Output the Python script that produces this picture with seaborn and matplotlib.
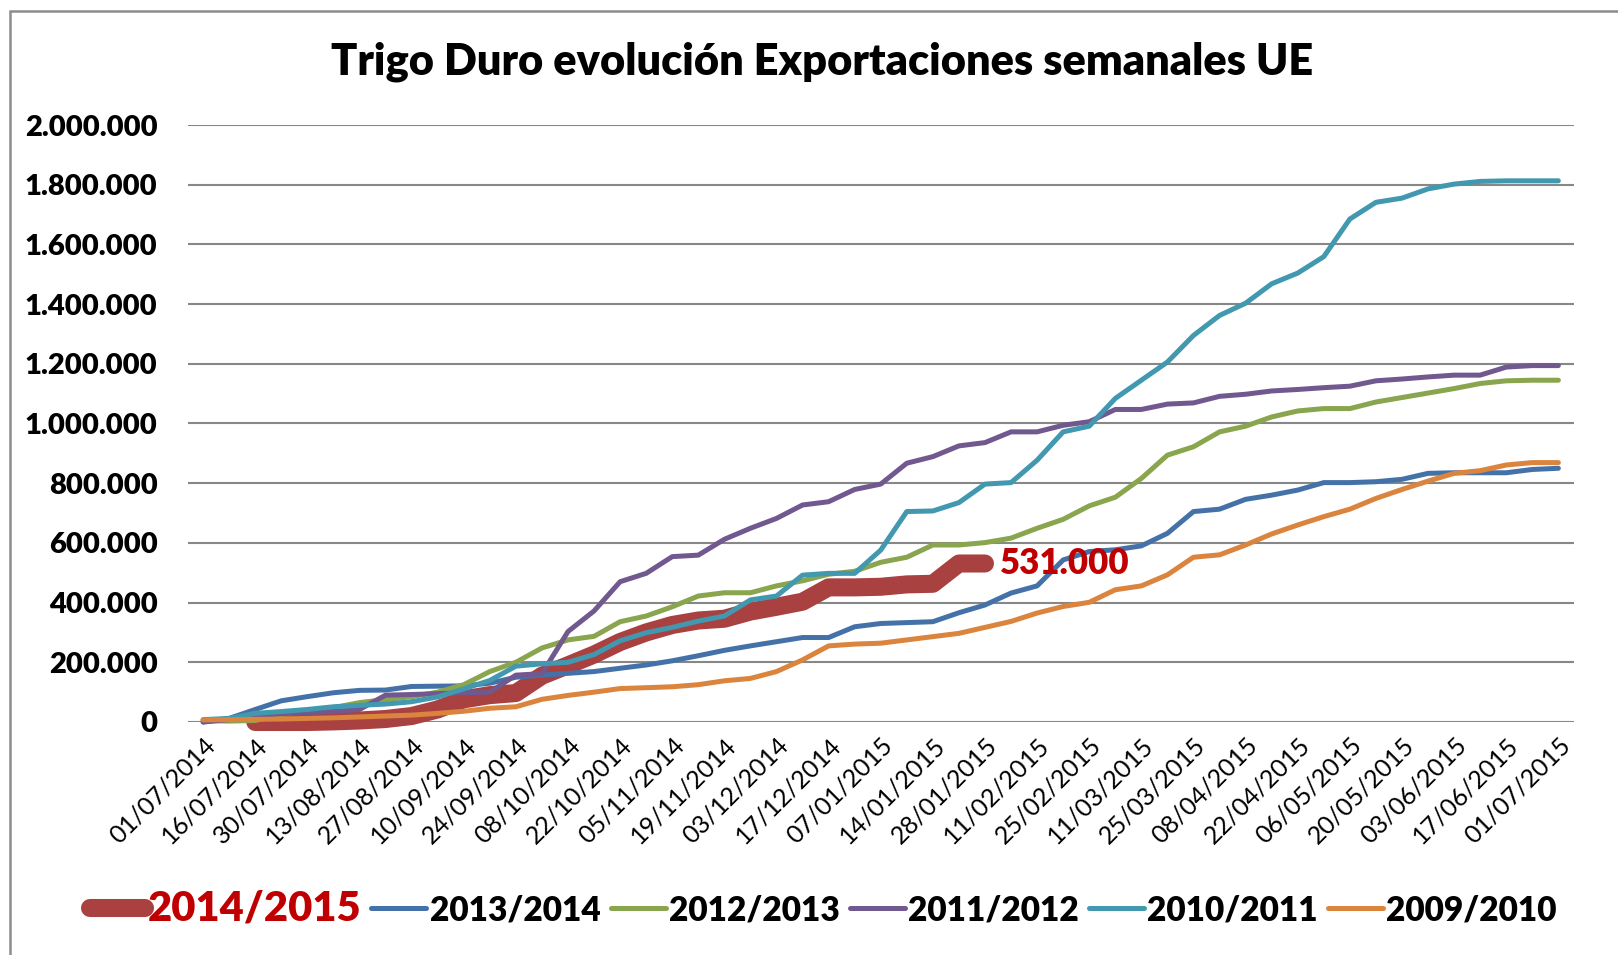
import numpy as np
import pandas as pd
import seaborn as sns
import matplotlib.pyplot as plt
from matplotlib.patches import Rectangle
from matplotlib.ticker import FuncFormatter

nan = np.nan

# fechas que aparecen en el eje (una de cada dos semanas)
tick_labels = ["01/07/2014", "16/07/2014", "30/07/2014", "13/08/2014", "27/08/2014",
               "10/09/2014", "24/09/2014", "08/10/2014", "22/10/2014", "05/11/2014",
               "19/11/2014", "03/12/2014", "17/12/2014", "07/01/2015", "14/01/2015",
               "28/01/2015", "11/02/2015", "25/02/2015", "11/03/2015", "25/03/2015",
               "08/04/2015", "22/04/2015", "06/05/2015", "20/05/2015", "03/06/2015",
               "17/06/2015", "01/07/2015"]
weeks = np.arange(53)

# exportaciones acumuladas, miles de t
c2014 = [nan, nan, 0, 0, 0, 2, 5, 10, 20, 42, 76, 90, 97, 155, 190, 226, 268, 300, 325, 340,
         346, 370, 386, 403, 451, 451, 453, 461, 463, 531, 531] + [nan] * 22
c2013 = [0, 12, 42, 71, 85, 98, 106, 107, 119, 120, 121, 130, 150, 157, 163, 169, 180, 191,
         205, 222, 240, 255, 269, 283, 283, 319, 330, 333, 336, 366, 392, 432, 456, 543, 571,
         577, 590, 632, 705, 713, 746, 760, 777, 802, 802, 805, 813, 833, 835, 835, 835, 846, 850]
c2012 = [5, 3, 5, 25, 38, 48, 65, 75, 85, 100, 125, 169, 200, 248, 275, 287, 336, 355, 386,
         422, 433, 433, 456, 473, 495, 505, 535, 552, 593, 593, 601, 616, 649, 679, 724, 753,
         816, 894, 922, 972, 991, 1022, 1042, 1050, 1050, 1072, 1087, 1102, 1117, 1134, 1143,
         1145, 1145]
c2011 = [0, 8, 20, 28, 32, 35, 42, 90, 92, 95, 98, 100, 157, 162, 303, 372, 470, 498, 554,
         559, 612, 649, 682, 727, 738, 779, 797, 867, 889, 925, 936, 972, 972, 994, 1006, 1047,
         1047, 1065, 1069, 1091, 1098, 1109, 1114, 1120, 1125, 1143, 1149, 1156, 1162, 1162,
         1189, 1194, 1194]
c2010 = [8, 12, 29, 35, 42, 51, 56, 60, 68, 84, 111, 139, 187, 195, 200, 226, 272, 299, 317,
         338, 355, 409, 422, 492, 498, 498, 576, 705, 707, 735, 797, 802, 877, 972, 991, 1084,
         1145, 1206, 1295, 1362, 1403, 1468, 1504, 1559, 1685, 1741, 1755, 1786, 1802, 1811,
         1813, 1813, 1813]
c2009 = [7, 8, 9, 10, 12, 14, 17, 20, 23, 29, 36, 46, 51, 76, 89, 100, 112, 115, 118, 125,
         138, 146, 169, 208, 255, 261, 264, 275, 286, 297, 317, 337, 365, 387, 401, 443, 456,
         493, 552, 560, 593, 630, 660, 688, 713, 749, 779, 807, 833, 842, 861, 869, 869]

campaigns = ["2014/2015", "2013/2014", "2012/2013", "2011/2012", "2010/2011", "2009/2010"]
series = [c2014, c2013, c2012, c2011, c2010, c2009]
colors = ["#A8413F", "#4472A8", "#89A54E", "#71588F", "#4198AF", "#DB843D"]

sns.set_style("white")
plt.rcParams['font.family'] = ['Lato', 'DejaVu Sans']
plt.rcParams['text.color'] = 'black'
plt.rcParams['xtick.color'] = 'black'
plt.rcParams['ytick.color'] = 'black'

fig = plt.figure(figsize=(16.18, 9.55), dpi=100)
ax = fig.add_axes([188 / 1618, 1 - 722 / 955, 1386 / 1618, 597 / 955])

for name, vals, col in zip(campaigns, series, colors):
    lw = 13 if name == "2014/2015" else 3.6
    sns.lineplot(x=weeks, y=np.array(vals) * 1000, ax=ax, color=col, linewidth=lw,
                 label=name, solid_capstyle='round', solid_joinstyle='round', clip_on=False)

ax.annotate("531.000", xy=(30, 531000), xytext=(11, 0), textcoords='offset points',
            color="#C00000", fontsize=25, fontweight='heavy', va='center', ha='left')

ax.set_xlim(-0.58, 52.6)
ax.set_ylim(0, 2000000)
ax.set_yticks(np.arange(0, 2000001, 200000))
ax.yaxis.set_major_formatter(FuncFormatter(lambda v, p: f"{int(v):,}".replace(",", ".")))
ax.set_xticks(weeks[::2])
ax.set_xticklabels(tick_labels, rotation=45, ha='right', rotation_mode='anchor', fontsize=18)
for t in ax.get_yticklabels():
    t.set_fontweight('heavy')
    t.set_fontsize(21)
ax.tick_params(axis='y', length=0, pad=22)
ax.tick_params(axis='x', length=0, pad=8)
ax.grid(axis='y', color='#878787', linewidth=1.5)
ax.grid(axis='x', visible=False)
for s in ax.spines.values():
    s.set_visible(False)
ax.set_xlabel("")
ax.set_ylabel("")

fig.text(822 / 1618, 1 - 62 / 955, "Trigo Duro evolución Exportaciones semanales UE",
         ha='center', va='center', fontsize=31.2, fontweight='heavy')

leg = ax.legend(loc='center', bbox_to_anchor=(823 / 1618, 1 - 908 / 955),
                bbox_transform=fig.transFigure, ncol=6, frameon=False, fontsize=24,
                handlelength=1.65, handletextpad=0.1, columnspacing=0.3)
for i, t in enumerate(leg.get_texts()):
    t.set_fontweight('heavy')
    if i == 0:
        t.set_color("#C00000")
        t.set_fontsize(30)
for h in leg.get_lines():
    h.set_solid_capstyle('round')

fig.patches.append(Rectangle((10 / 1618, -0.05), 1.1, 1 - 11 / 955 + 0.05,
                             transform=fig.transFigure, fill=False,
                             edgecolor='#8C8C8C', linewidth=1.8))

fig.savefig("out.png", dpi=100)
